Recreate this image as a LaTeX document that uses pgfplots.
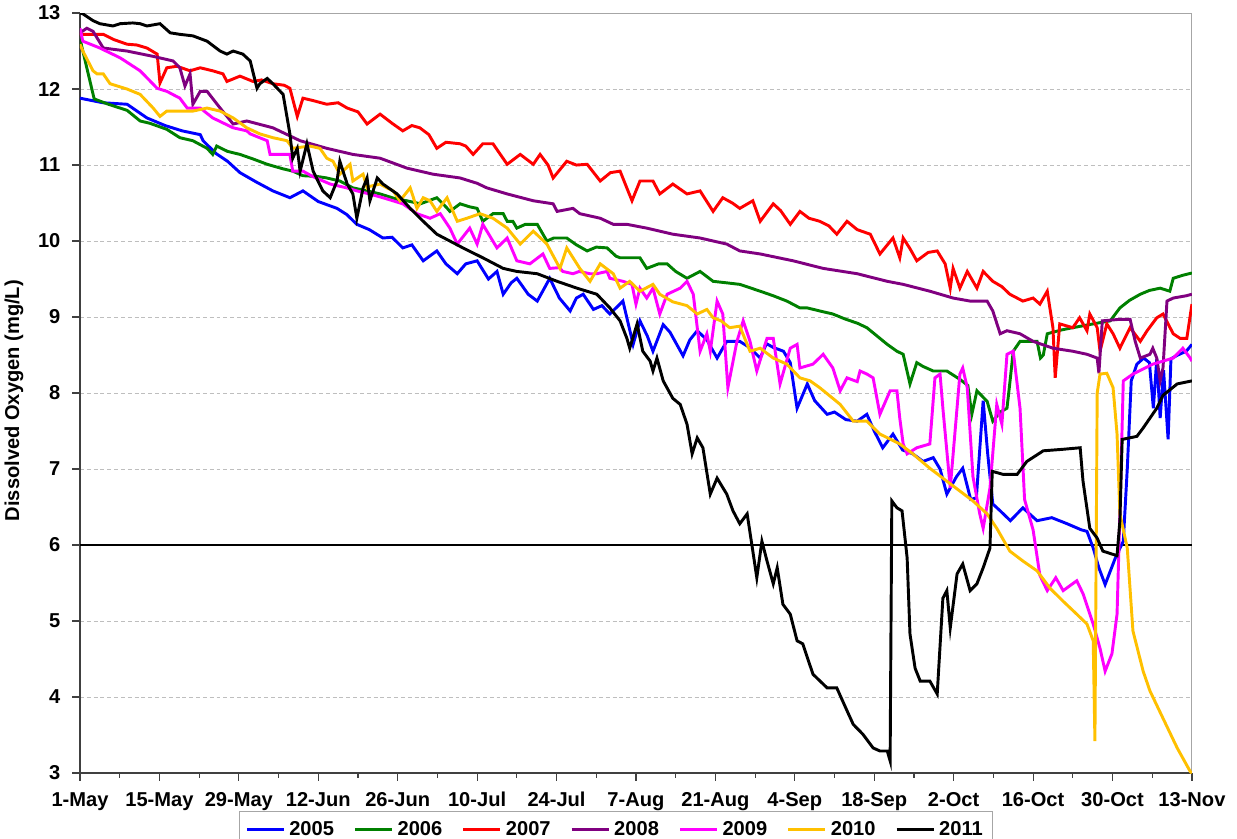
\documentclass[border=0pt]{standalone}
\usepackage{fontspec}
\setmainfont{Liberation Sans}
\usepackage{pgfplots}
\pgfplotsset{compat=1.18}
\definecolor{c05}{RGB}{0,0,255}
\definecolor{c06}{RGB}{0,128,0}
\definecolor{c07}{RGB}{255,0,0}
\definecolor{c08}{RGB}{128,0,128}
\definecolor{c09}{RGB}{255,0,255}
\definecolor{c10}{RGB}{255,192,0}
\definecolor{c11}{RGB}{0,0,0}
\definecolor{gridc}{RGB}{190,190,190}
\begin{document}
\fontsize{10.3}{12}\selectfont
\begin{tikzpicture}
\useasboundingbox (-41pt,-33.8pt) rectangle (593pt,396.2pt);
\begin{axis}[
  scale only axis,
  width=569.9pt, height=389.5pt,
  xmin=0, xmax=196, ymin=3, ymax=13,
  axis lines=left,
  axis line style={-, black!75, line width=0.6pt},
  xtick={0,14,...,196},
  xticklabels={1-May,15-May,29-May,12-Jun,26-Jun,10-Jul,24-Jul,7-Aug,21-Aug,4-Sep,18-Sep,2-Oct,16-Oct,30-Oct,13-Nov},
  minor x tick num=1,
  ytick={3,4,...,13},
  tick align=outside,
  major tick length=4pt,
  minor tick length=2.5pt,
  tick style={black!75, line width=0.6pt},
  ymajorgrids,
  major grid style={gridc, dash pattern=on 2pt off 1.5pt, line width=0.5pt},
  /pgf/number format/assume math mode=true,
  tick label style={font=\fontsize{10.3}{12}\selectfont\bfseries},
  xticklabel style={yshift=-2.2pt},
  yticklabel style={xshift=-2.4pt},
  ylabel={Dissolved Oxygen (mg/L)},
  ylabel style={font=\fontsize{10.3}{12}\selectfont\bfseries, at={(axis description cs:-0.0594,0.49)}, anchor=center, rotate=0},
  legend columns=7,
  legend style={at={(axis description cs:0.482,-0.05)}, anchor=north, draw=black!35, fill=white,
    font=\fontsize{10.3}{12}\selectfont\bfseries, inner sep=3pt,
    /tikz/every even column/.append style={column sep=8pt}},
  legend image code/.code={\draw[#1, line width=1.6pt] (0pt,0pt) -- (19pt,0pt);},
  clip=true,
]
\draw[gray!70, line width=0.6pt] (rel axis cs:0,1) -- (rel axis cs:1,1) -- (rel axis cs:1,0);
\addplot[black, line width=1.5pt, forget plot] coordinates {(0,6) (196,6)};

% 2005
\addplot[c05, line width=1.5pt] coordinates {
(0,11.88)(4,11.82)(8.3,11.80)(11.8,11.62)(15,11.52)(18,11.45)(21.2,11.40)(21.7,11.32)(24,11.15)(26,11.05)
(28.2,10.90)(31,10.78)(34,10.66)(37,10.57)(39.3,10.66)(42,10.52)(45.3,10.43)(47,10.35)(48.8,10.22)(51,10.15)
(53.4,10.04)(55,10.05)(56.9,9.91)(58.5,9.95)(60.5,9.74)(62.9,9.87)(64.5,9.70)(66.5,9.57)(68,9.70)(70,9.74)
(72,9.50)(73.5,9.60)(74.6,9.30)(76,9.45)(77,9.51)(79,9.30)(80.6,9.21)(82,9.40)(82.8,9.51)(84.5,9.25)
(86.4,9.08)(87.5,9.25)(88.7,9.30)(90.5,9.10)(92,9.15)(93.4,9.04)(95.7,9.21)(97.5,8.64)(98.7,8.95)(100,8.75)
(101,8.55)(102.8,8.90)(104,8.80)(106.3,8.49)(107.5,8.70)(108.8,8.82)(110.5,8.70)(112.3,8.46)(114,8.68)(116.3,8.68)
(118,8.60)(119.9,8.46)(121,8.65)(122.2,8.60)(124,8.55)(125.2,8.40)(126.4,7.80)(128.2,8.12)(129.5,7.90)(131.7,7.72)
(133,7.75)(135,7.65)(137,7.63)(138.7,7.72)(140,7.50)(141.5,7.28)(143.3,7.46)(145,7.25)(146.8,7.20)(148.6,7.10)
(150.4,7.15)(151.6,7.00)(152.8,6.67)(154.5,6.90)(155.6,7.01)(157,6.60)(158,6.62)(159.2,7.90)(160,7.20)(160.9,6.54)
(162.2,6.45)(164,6.32)(166.2,6.49)(168.7,6.32)(171.3,6.36)(174,6.28)(176.5,6.20)(177.5,6.18)(178.6,5.96)(179.6,5.70)
(180.7,5.48)(182.5,5.83)(183.9,6.05)(184.6,7.00)(185.3,8.16)(186.3,8.38)(187.5,8.46)(188.5,8.40)(189.2,7.80)(189.8,8.45)
(190.4,7.67)(191,8.30)(191.8,7.39)(192.3,8.45)(193.5,8.50)(195,8.55)(196,8.64)
};
\addlegendentry{2005}

% 2006
\addplot[c06, line width=1.5pt] coordinates {
(0,12.66)(1.2,12.28)(2.5,11.87)(5,11.80)(8.3,11.72)(10.6,11.58)(12.3,11.55)(15.3,11.47)(17.6,11.36)(19.9,11.32)
(22.4,11.22)(23.4,11.14)(24.1,11.25)(26,11.18)(28.2,11.14)(30.5,11.08)(33,11.01)(35.8,10.95)(37.5,10.92)(39.3,10.86)
(41.8,10.85)(43.5,10.83)(45.8,10.79)(48.1,10.70)(50.6,10.66)(52.9,10.62)(55.9,10.55)(57.6,10.53)(60,10.49)(62.9,10.57)
(64.5,10.45)(65.2,10.39)(67,10.49)(68.7,10.45)(70,10.43)(71,10.26)(72.8,10.36)(74.6,10.36)(75.3,10.26)(76.3,10.26)
(77,10.17)(78.5,10.22)(80.6,10.22)(82.3,10.00)(83.5,10.04)(85.8,10.04)(87.5,9.95)(89.4,9.87)(91,9.92)(92.9,9.91)
(94.5,9.80)(95.2,9.78)(98.7,9.78)(99.9,9.64)(102,9.70)(103.5,9.70)(105,9.60)(107,9.51)(109.3,9.60)(111.6,9.47)
(114,9.45)(116.3,9.43)(119.9,9.34)(122.2,9.28)(124.6,9.21)(126.9,9.12)(128.2,9.12)(130.4,9.08)(132.7,9.04)(135,8.97)
(137,8.92)(138.7,8.86)(140.5,8.75)(142.3,8.64)(144,8.55)(145.1,8.51)(146.3,8.12)(147.5,8.40)(148.6,8.35)(150.4,8.29)
(152.8,8.29)(155.1,8.18)(156.5,8.10)(157.2,7.72)(158.1,8.03)(159.9,7.89)(160.9,7.63)(162.2,7.75)(163.4,7.80)(164,8.20)
(164.5,8.55)(165.7,8.68)(168.7,8.68)(169.3,8.46)(169.8,8.50)(170.5,8.78)(173,8.83)(175,8.86)(178.6,8.91)(181.6,8.95)
(183.3,9.12)(185,9.22)(186.9,9.30)(188.5,9.35)(190.4,9.38)(192.1,9.34)(192.7,9.51)(194.4,9.55)(196,9.58)
};
\addlegendentry{2006}

% 2007
\addplot[c07, line width=1.5pt] coordinates {
(0,12.72)(4.1,12.72)(6,12.65)(8.3,12.59)(10,12.58)(11.8,12.54)(13.6,12.46)(14.1,12.08)(15.3,12.28)(17.1,12.30)
(19.4,12.24)(21.2,12.28)(23.4,12.24)(25.2,12.20)(25.9,12.10)(28.2,12.17)(30.5,12.10)(32,12.12)(34,12.07)(36,12.05)
(37,12.01)(38.3,11.64)(39.3,11.88)(41,11.85)(43.5,11.80)(45.5,11.82)(47.1,11.75)(49,11.70)(50.6,11.54)(52.9,11.67)
(55,11.55)(56.9,11.45)(58.5,11.52)(59.9,11.49)(61.5,11.40)(62.9,11.22)(64.5,11.30)(67,11.28)(68,11.25)(69.3,11.14)
(71,11.28)(72.8,11.28)(74,11.15)(75.3,11.01)(77.6,11.14)(79.9,11.01)(81.1,11.14)(82.5,11.00)(83.4,10.83)(85.8,11.05)
(87.5,11.00)(89.4,11.01)(91.7,10.79)(93.5,10.90)(95.2,10.92)(97.3,10.53)(98.7,10.79)(101,10.79)(102.2,10.62)(104.5,10.75)
(107,10.62)(109.3,10.66)(111.6,10.39)(113.3,10.57)(115,10.50)(116.3,10.43)(118.6,10.53)(119.9,10.26)(122.2,10.49)(123.5,10.40)
(125.2,10.22)(126.9,10.39)(128.5,10.30)(130.4,10.26)(132,10.20)(133.4,10.09)(135.2,10.26)(137,10.15)(139.3,10.09)(141,9.83)
(143.3,10.04)(144.5,9.78)(145.1,10.04)(146.3,9.90)(147.5,9.74)(149.5,9.85)(151.1,9.87)(152.5,9.70)(153.4,9.38)(153.9,9.64)
(155.1,9.38)(156.4,9.60)(158.1,9.38)(159.2,9.60)(160.9,9.47)(162.5,9.40)(163.9,9.30)(166.2,9.21)(168,9.25)(169.2,9.17)
(170.5,9.34)(171.5,8.86)(171.9,8.20)(172.7,8.91)(175,8.86)(176.2,8.99)(177.5,8.82)(178,9.04)(179.3,8.86)(179.8,8.55)
(181,8.91)(182.1,8.78)(183.3,8.59)(185.1,8.86)(186.9,8.68)(188.1,8.82)(189.8,8.99)(190.9,9.04)(192.7,8.78)(193.9,8.72)
(195.1,8.72)(196,9.17)
};
\addlegendentry{2007}

% 2008
\addplot[c08, line width=1.5pt] coordinates {
(0,12.74)(1.2,12.80)(2.3,12.76)(4.1,12.54)(8.3,12.50)(12.9,12.43)(16.4,12.37)(17.6,12.28)(18.5,12.04)(19.4,12.20)
(19.9,11.80)(21.2,11.97)(22.4,11.97)(24.7,11.75)(27,11.54)(29.4,11.58)(34,11.49)(38.8,11.32)(43.5,11.22)(48.1,11.14)
(52.9,11.09)(57.6,10.96)(62.2,10.88)(67,10.83)(70,10.76)(71.7,10.70)(75.3,10.62)(79.9,10.53)(83.4,10.49)(84.1,10.39)
(86.9,10.43)(88.1,10.36)(91.7,10.30)(94,10.22)(96.4,10.22)(99.9,10.17)(104.5,10.09)(109.3,10.04)(114,9.96)(116.3,9.87)
(119.9,9.83)(125.7,9.74)(131,9.64)(137,9.57)(142.3,9.47)(145.1,9.43)(149.8,9.34)(153.9,9.25)(156.9,9.21)(159.9,9.21)
(160.9,9.08)(162.2,8.78)(163.4,8.82)(165.7,8.78)(168,8.68)(171.5,8.59)(175,8.55)(177.5,8.51)(179.3,8.46)(179.6,8.26)
(180.2,8.95)(183.3,8.97)(185.1,8.97)(186,8.68)(186.9,8.46)(188.6,8.51)(189.1,8.59)(189.8,8.46)(190.4,8.16)(190.9,8.33)
(191.6,9.21)(192.7,9.25)(195,9.28)(196,9.30)
};
\addlegendentry{2008}

% 2009
\addplot[c09, line width=1.5pt] coordinates {
(0,12.80)(0.5,12.63)(3.5,12.54)(7.1,12.41)(10.6,12.24)(12.3,12.11)(13.6,12.01)(15.3,11.97)(17.6,11.88)(18.9,11.75)
(21.2,11.75)(23.4,11.62)(27,11.49)(29.4,11.45)(30,11.41)(33,11.32)(33.5,11.14)(37,11.14)(37.5,10.92)(39.3,10.92)
(41,10.85)(44.1,10.75)(47,10.70)(48.8,10.66)(51,10.62)(53.4,10.57)(56.9,10.49)(59.4,10.36)(61.7,10.30)(63.5,10.36)
(65.2,10.17)(66.5,9.96)(68.7,10.17)(70,9.96)(71,10.22)(73.5,9.91)(75.3,10.04)(77,9.74)(79.3,9.70)(81.6,9.83)
(82.8,9.64)(84.5,9.65)(85.1,9.60)(86.9,9.57)(88,9.60)(89.9,9.57)(91.1,9.57)(92.9,9.60)(93.4,9.51)(95.7,9.47)
(97.3,9.43)(98,9.17)(98.7,9.38)(99.9,9.25)(101,9.38)(102.2,9.04)(103.5,9.30)(105.8,9.38)(107,9.47)(108.1,9.30)
(109.3,8.55)(110.5,8.78)(111.1,8.55)(112.3,9.21)(113.3,9.04)(114.2,8.07)(115.8,8.68)(116.9,8.95)(118.1,8.68)(119.3,8.29)
(121.1,8.72)(122.2,8.72)(123.4,8.12)(125.2,8.59)(126.4,8.64)(126.9,8.33)(129.2,8.38)(131,8.51)(132.7,8.33)(134,8.03)
(135.2,8.20)(137,8.15)(137.5,8.29)(138.7,8.25)(139.8,8.20)(141,7.72)(142.8,8.03)(144,8.03)(144.5,7.67)(145.1,7.33)
(145.8,7.20)(147.5,7.28)(149.8,7.33)(150.7,8.20)(151.6,8.25)(152.1,7.80)(153.4,6.75)(155.1,8.25)(155.6,8.33)(156.4,8.07)
(157.4,6.90)(158.6,6.41)(159.2,6.22)(160.4,6.75)(161.6,7.85)(162.5,7.59)(163.4,8.51)(164.5,8.55)(165.7,7.80)(166.5,6.60)
(168,6.20)(169.2,5.60)(170.5,5.40)(172,5.57)(173.3,5.40)(175.7,5.53)(176.8,5.36)(178.6,4.96)(179.8,4.64)(180.7,4.34)
(181.9,4.57)(182.8,5.09)(183.3,6.41)(183.9,8.16)(185.6,8.25)(189.1,8.38)(192.7,8.46)(194.4,8.59)(195.7,8.46)(196,8.42)
};
\addlegendentry{2009}

% 2010
\addplot[c10, line width=1.5pt] coordinates {
(0,12.59)(0.5,12.50)(2.3,12.24)(3,12.20)(4.1,12.20)(5.3,12.07)(8.3,12.00)(10.6,11.93)(12.9,11.75)(14.1,11.64)
(15.3,11.71)(19.9,11.71)(22.4,11.75)(24.7,11.71)(27,11.62)(29.4,11.49)(31.7,11.41)(34,11.36)(36.5,11.32)(37.5,11.22)
(40.5,11.25)(42.3,11.22)(43.5,11.09)(44.6,11.05)(45.8,10.88)(47.6,11.01)(48.1,10.79)(49.9,10.88)(50.6,10.70)(51.1,10.72)
(52.9,10.75)(54.1,10.70)(55.2,10.66)(56.4,10.53)(58.2,10.70)(59.4,10.43)(60.5,10.57)(61.7,10.53)(62.9,10.39)(64.7,10.57)
(66.5,10.26)(68.2,10.30)(70.5,10.36)(72.8,10.30)(75.3,10.17)(77.6,9.96)(79.9,10.13)(82.3,9.96)(84.6,9.64)(85.8,9.91)
(88.1,9.64)(89.9,9.47)(91.7,9.70)(94,9.57)(95.2,9.38)(96.9,9.47)(98.7,9.34)(101,9.43)(102.2,9.30)(104.5,9.20)
(107,9.15)(108.8,9.04)(110.5,9.10)(111.6,8.99)(113,8.95)(114.5,8.86)(116.3,8.88)(118.1,8.55)(119.9,8.59)(122.2,8.46)
(124.6,8.38)(126.9,8.20)(128.7,8.16)(130.4,8.07)(132.7,7.93)(134,7.85)(136.3,7.63)(138.7,7.63)(141,7.46)(144.5,7.33)
(146.8,7.20)(149.8,7.01)(152.8,6.84)(155.1,6.71)(157.4,6.58)(159.9,6.41)(161.6,6.22)(163.9,5.92)(166.2,5.79)(168.7,5.66)
(171,5.43)(173.3,5.26)(175.7,5.09)(177.5,4.96)(178.6,4.74)(178.9,3.42)(179.3,8.00)(179.8,8.25)(181,8.26)(182.1,8.07)
(182.8,7.46)(183.3,6.41)(184.6,5.96)(185.6,4.87)(187.4,4.34)(188.6,4.08)(190.9,3.72)(193.4,3.33)(195.7,3.02)(196,3.0)
};
\addlegendentry{2010}

% 2011
\addplot[c11, line width=1.5pt] coordinates {
(0,13.00)(0.5,12.99)(2.3,12.90)(3.5,12.86)(5.8,12.83)(7.1,12.86)(9.3,12.87)(10.6,12.86)(11.8,12.83)(14.1,12.86)
(15.9,12.74)(17.6,12.72)(19.9,12.70)(22.4,12.63)(24.7,12.50)(25.9,12.46)(27,12.50)(28.7,12.46)(30,12.37)(31.2,12.01)
(31.7,12.07)(33,12.14)(34,12.07)(35.8,11.93)(37,11.41)(37.5,11.09)(38.3,11.22)(38.8,10.92)(40,11.28)(41.1,10.92)
(42.8,10.66)(44.1,10.57)(45.3,10.79)(45.8,11.05)(47.1,10.75)(48.1,10.62)(48.8,10.30)(49.9,10.70)(50.6,10.83)(51.1,10.53)
(52.4,10.83)(53.4,10.75)(55.9,10.62)(58.2,10.43)(60.5,10.26)(62.9,10.09)(65.2,10.00)(67.5,9.91)(71,9.78)(74.6,9.64)
(77,9.60)(80.6,9.57)(84.1,9.47)(87.6,9.38)(91.1,9.30)(93.4,9.12)(95.2,8.95)(96.4,8.72)(96.9,8.59)(98.2,8.91)
(99.2,8.55)(100.5,8.42)(101,8.29)(101.7,8.46)(102.8,8.16)(104.5,7.93)(105.8,7.85)(107,7.59)(107.9,7.20)(108.8,7.41)
(109.8,7.28)(111.1,6.67)(112.3,6.88)(114,6.67)(115.1,6.45)(116.3,6.28)(117.6,6.41)(118.6,5.92)(119.3,5.57)(120.2,6.05)
(121.1,5.79)(122.2,5.49)(122.9,5.70)(123.9,5.22)(125.2,5.09)(126.4,4.74)(127.4,4.70)(129.2,4.30)(131.7,4.12)(133.4,4.12)
(135.2,3.82)(136.3,3.64)(138,3.51)(139.8,3.33)(141,3.29)(142.3,3.29)(142.8,3.16)(143.1,6.58)(144,6.49)(144.9,6.45)
(145.8,5.83)(146.3,4.83)(147.2,4.38)(148.1,4.21)(149.8,4.21)(151.1,4.04)(152.1,5.30)(152.8,5.40)(153.4,4.91)(154.6,5.62)
(155.6,5.75)(156.9,5.40)(158.1,5.49)(159.2,5.70)(160.4,5.96)(160.8,6.97)(162.7,6.93)(165.2,6.93)(166.9,7.10)(169.8,7.24)
(173.3,7.26)(176.3,7.28)(176.8,6.84)(178,6.22)(179.3,6.09)(180.3,5.92)(182.8,5.86)(183.3,6.32)(183.7,7.39)(186.3,7.43)
(187.4,7.54)(189.8,7.80)(190.9,7.97)(193.4,8.12)(196,8.16)
};
\addlegendentry{2011}
\end{axis}
\end{tikzpicture}
\end{document}
